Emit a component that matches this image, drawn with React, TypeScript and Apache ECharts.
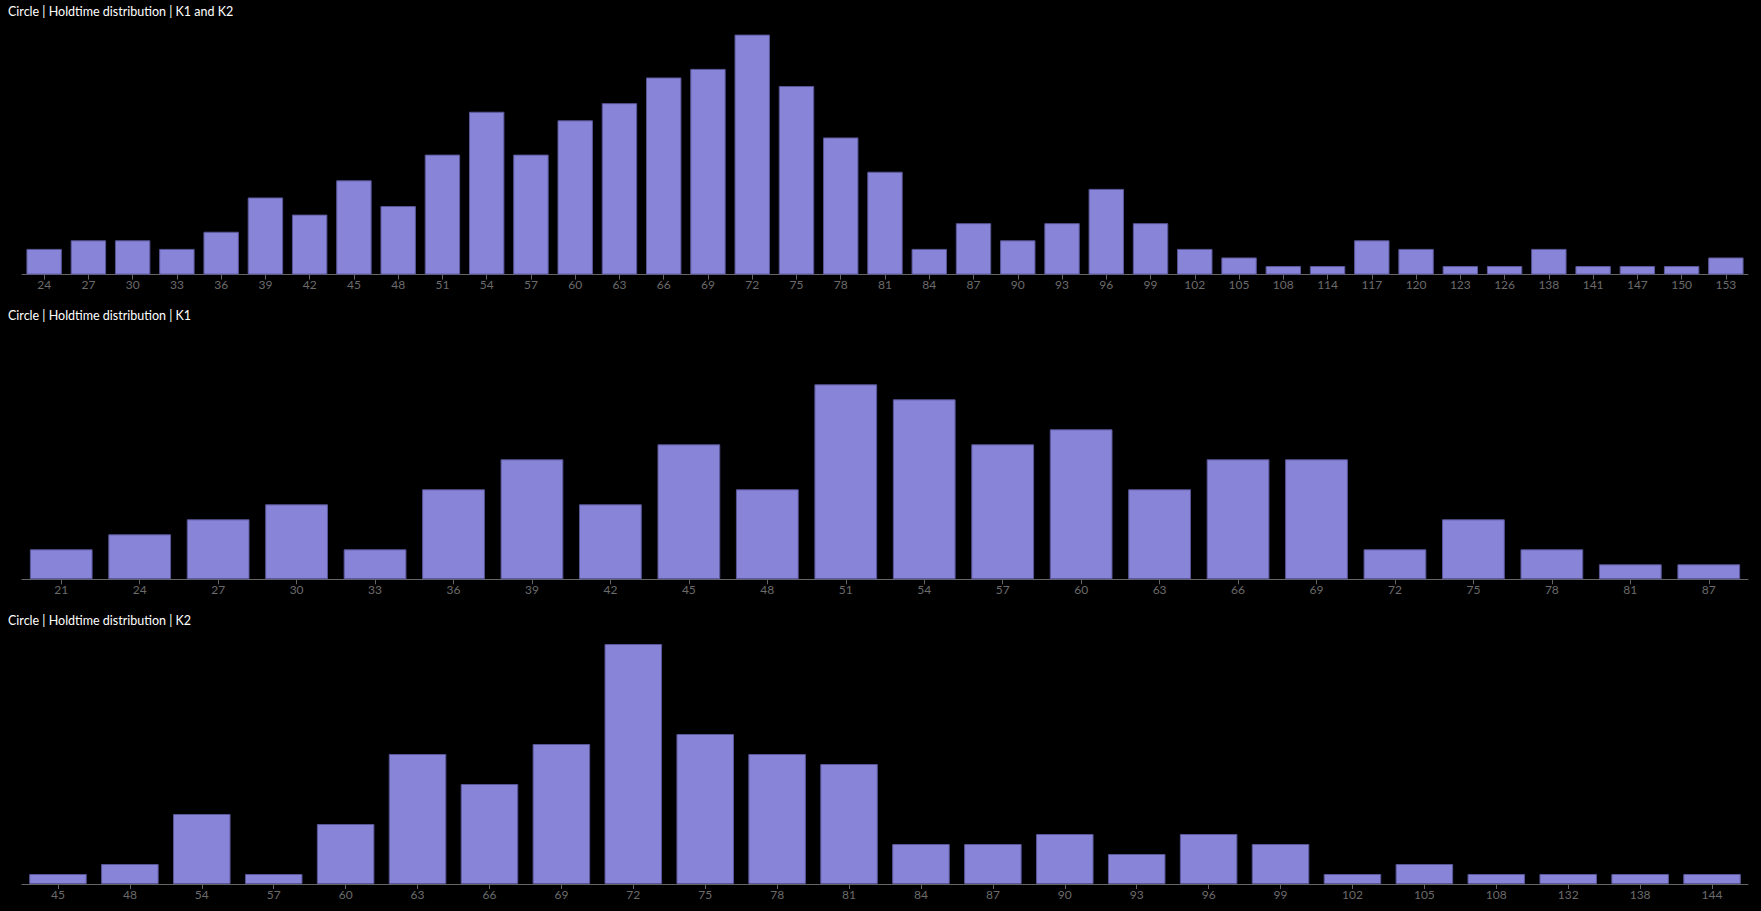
import React, { useEffect, useRef } from "react";
import * as echarts from "echarts";

const titles = [
  "Circle | Holdtime distribution | K1 and K2",
  "Circle | Holdtime distribution | K1",
  "Circle | Holdtime distribution | K2",
];

const cats1 = [24, 27, 30, 33, 36, 39, 42, 45, 48, 51, 54, 57, 60, 63, 66, 69, 72, 75, 78, 81, 84, 87, 90, 93, 96, 99, 102, 105, 108, 114, 117, 120, 123, 126, 138, 141, 147, 150, 153];
const vals1 = [3, 4, 4, 3, 5, 9, 7, 11, 8, 14, 19, 14, 18, 20, 23, 24, 28, 22, 16, 12, 3, 6, 4, 6, 10, 6, 3, 2, 1, 1, 4, 3, 1, 1, 3, 1, 1, 1, 2];

const cats2 = [21, 24, 27, 30, 33, 36, 39, 42, 45, 48, 51, 54, 57, 60, 63, 66, 69, 72, 75, 78, 81, 87];
const vals2 = [2, 3, 4, 5, 2, 6, 8, 5, 9, 6, 13, 12, 9, 10, 6, 8, 8, 2, 4, 2, 1, 1];

const cats3 = [45, 48, 54, 57, 60, 63, 66, 69, 72, 75, 78, 81, 84, 87, 90, 93, 96, 99, 102, 105, 108, 132, 138, 144];
const vals3 = [1, 2, 7, 1, 6, 13, 10, 14, 24, 15, 13, 12, 4, 4, 5, 3, 5, 4, 1, 2, 1, 1, 1, 1];

const yMax = [28, 16, 24];
const yStep = [7, 4, 6];

const FONT = "Lato, 'Noto Sans', sans-serif";

export default function App() {
  const ref = useRef<HTMLDivElement>(null);
  useEffect(() => {
    if (!ref.current) return;
    const chart = echarts.init(ref.current, undefined, { renderer: "svg" });
    const catsAll = [cats1, cats2, cats3];
    const valsAll = [vals1, vals2, vals3];
    const tops = [34.6, 339.3, 644];
    const titleTops = [4.5, 308.5, 613.5];
    chart.setOption({
      animation: false,
      backgroundColor: "#000",
      title: titles.map((t, i) => ({
        text: t,
        left: 8,
        top: titleTops[i],
        padding: 0,
        textStyle: { color: "#fff", fontSize: 12.5, fontWeight: "normal", fontFamily: FONT },
      })),
      grid: tops.map((t) => ({ left: 22, right: 13, top: t, height: 240, containLabel: false })),
      xAxis: catsAll.map((c, i) => ({
        type: "category",
        gridIndex: i,
        data: c.map(String),
        axisLine: { show: true, lineStyle: { color: "#666", width: 1 } },
        axisTick: { show: true, alignWithLabel: true, length: 5, lineStyle: { color: "#666" } },
        axisLabel: { color: "#6b6b6b", fontSize: 12, fontFamily: FONT, margin: 4, interval: 0 },
        splitLine: { show: false },
      })),
      yAxis: yMax.map((m, i) => ({
        type: "value",
        gridIndex: i,
        min: 0,
        max: m,
        interval: yStep[i],
        show: false,
        splitLine: { show: false },
      })),
      series: valsAll.map((v, i) => ({
        type: "bar",
        xAxisIndex: i,
        yAxisIndex: i,
        data: v,
        barCategoryGap: "20%",
        itemStyle: { color: "#8884d8", borderColor: "#5a5799", borderWidth: 1 },
      })),
    });
    return () => chart.dispose();
  }, []);
  return (
    <div
      ref={ref}
      style={{ position: "fixed", left: 0, top: 0, width: 1761, height: 911, background: "#000" }}
    />
  );
}
